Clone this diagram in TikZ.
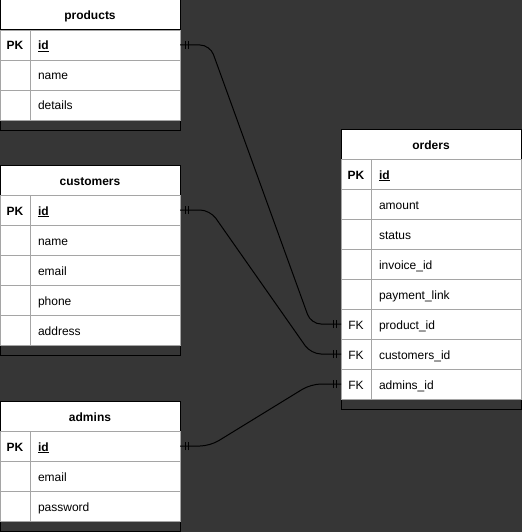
\documentclass[tikz,border=0pt]{standalone}
\usepackage{fontspec}
\setmainfont{Liberation Sans}
\usetikzlibrary{positioning,calc,decorations.markings}
\definecolor{canvas}{RGB}{54,54,54}
\definecolor{rowline}{RGB}{165,165,165}

\begin{document}
\begin{tikzpicture}
	[x=1pt, y=-1pt,
	font=\fontsize{12}{14}\selectfont,
	every node/.style={text height=11pt, text depth=1pt},
	frame/.style={draw=black, line width=1pt, minimum width=180pt, anchor=north west, inner sep=0pt, outer sep=0pt},
	head/.style={draw=black, fill=white, line width=1pt, minimum width=180pt, minimum height=30pt, anchor=north west, inner sep=0pt, outer sep=0pt, font=\fontsize{12}{14}\selectfont\bfseries},
	keycell/.style={draw=rowline, fill=white, line width=0.8pt, minimum width=30pt, minimum height=30pt, anchor=north west, inner sep=0pt, outer sep=0pt},
	pk/.style={keycell, font=\fontsize{12}{14}\selectfont\bfseries},
	field/.style={draw=rowline, fill=white, line width=0.8pt, text width=134pt, inner xsep=8pt, inner ysep=0pt, minimum height=30pt, align=left, outer sep=0pt},
	rel/.style={draw=black, line width=1pt, rounded corners=10pt, postaction={decorate},
		decoration={markings,
			mark=at position 5pt with {\draw[line width=1pt] (0,-4pt) -- (0,4pt);},
			mark=at position 8pt with {\draw[line width=1pt] (0,-4pt) -- (0,4pt);},
			mark=at position -5pt with {\draw[line width=1pt] (0,-4pt) -- (0,4pt);},
			mark=at position -8pt with {\draw[line width=1pt] (0,-4pt) -- (0,4pt);}}}]
	\useasboundingbox (0,0) rectangle (522,532);
	\fill [canvas] (0,0) rectangle (522,532);

	% products
	\node (prod) at (0,0) [frame, minimum height=130pt] {};
	\node (prod-head) at (0,0) [head] {products};
	\node (prod-id-k) at (0,30) [pk] {PK};
	\node (prod-id) [field, right=0pt of prod-id-k] {\textbf{\underline{id}}};
	\node (prod-name-k) at (0,60) [keycell] {};
	\node (prod-name) [field, right=0pt of prod-name-k] {name};
	\node (prod-details-k) at (0,90) [keycell] {};
	\node (prod-details) [field, right=0pt of prod-details-k] {details};

	% customers
	\node (cust) at (0,165) [frame, minimum height=190pt] {};
	\node (cust-head) at (0,165) [head] {customers};
	\node (cust-id-k) at (0,195) [pk] {PK};
	\node (cust-id) [field, right=0pt of cust-id-k] {\textbf{\underline{id}}};
	\node (cust-name-k) at (0,225) [keycell] {};
	\node (cust-name) [field, right=0pt of cust-name-k] {name};
	\node (cust-email-k) at (0,255) [keycell] {};
	\node (cust-email) [field, right=0pt of cust-email-k] {email};
	\node (cust-phone-k) at (0,285) [keycell] {};
	\node (cust-phone) [field, right=0pt of cust-phone-k] {phone};
	\node (cust-address-k) at (0,315) [keycell] {};
	\node (cust-address) [field, right=0pt of cust-address-k] {address};

	% admins
	\node (adm) at (0,401) [frame, minimum height=130pt] {};
	\node (adm-head) at (0,401) [head] {admins};
	\node (adm-id-k) at (0,431) [pk] {PK};
	\node (adm-id) [field, right=0pt of adm-id-k] {\textbf{\underline{id}}};
	\node (adm-email-k) at (0,461) [keycell] {};
	\node (adm-email) [field, right=0pt of adm-email-k] {email};
	\node (adm-password-k) at (0,491) [keycell] {};
	\node (adm-password) [field, right=0pt of adm-password-k] {password};

	% orders
	\node (ord) at (341,129) [frame, minimum height=280pt] {};
	\node (ord-head) at (341,129) [head] {orders};
	\node (ord-id-k) at (341,159) [pk] {PK};
	\node (ord-id) [field, right=0pt of ord-id-k] {\textbf{\underline{id}}};
	\node (ord-amount-k) at (341,189) [keycell] {};
	\node (ord-amount) [field, right=0pt of ord-amount-k] {amount};
	\node (ord-status-k) at (341,219) [keycell] {};
	\node (ord-status) [field, right=0pt of ord-status-k] {status};
	\node (ord-invoice-k) at (341,249) [keycell] {};
	\node (ord-invoice) [field, right=0pt of ord-invoice-k] {invoice\_id};
	\node (ord-payment-k) at (341,279) [keycell] {};
	\node (ord-payment) [field, right=0pt of ord-payment-k] {payment\_link};
	\node (ord-pid-k) at (341,309) [keycell] {FK};
	\node (ord-pid) [field, right=0pt of ord-pid-k] {product\_id};
	\node (ord-cid-k) at (341,339) [keycell] {FK};
	\node (ord-cid) [field, right=0pt of ord-cid-k] {customers\_id};
	\node (ord-aid-k) at (341,369) [keycell] {FK};
	\node (ord-aid) [field, right=0pt of ord-aid-k] {admins\_id};

	% relations
	\draw [rel] (prod-id.east) -- ++(30,0) -- ($(ord-pid-k.west)+(-30,0)$) -- (ord-pid-k.west);
	\draw [rel] (cust-id.east) -- ++(30,0) -- ($(ord-cid-k.west)+(-30,0)$) -- (ord-cid-k.west);
	\draw [rel] (adm-id.east) -- ++(30,0) -- ($(ord-aid-k.west)+(-30,0)$) -- (ord-aid-k.west);
\end{tikzpicture}
\end{document}
